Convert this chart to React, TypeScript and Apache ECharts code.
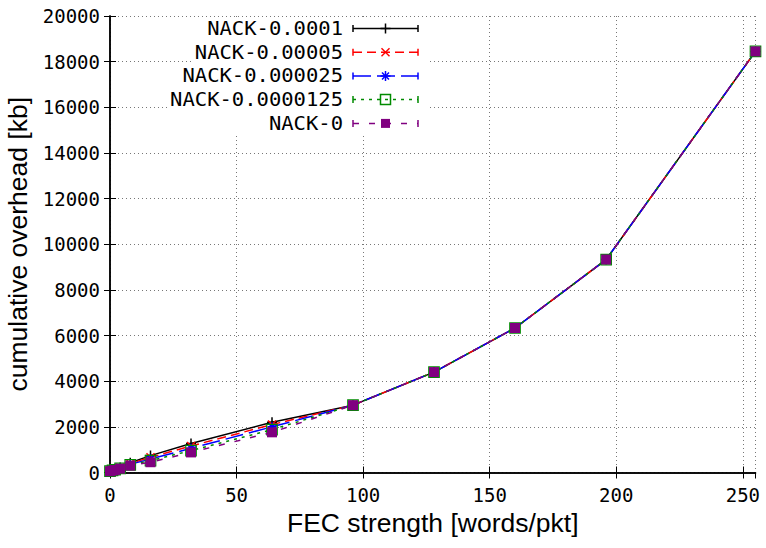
import React, { useEffect, useRef } from "react";
import * as echarts from "echarts";

const fecStrength = [0, 1, 2, 4, 8, 16, 32, 64, 96, 128, 160, 196, 255];
const nack0001 = [80, 110, 150, 220, 430, 740, 1270, 2200, 2950, 4400, 6330, 9330, 18450];
const nack00005 = [72, 102, 140, 205, 395, 665, 1160, 2100, 2950, 4400, 6330, 9330, 18450];
const nack000025 = [66, 96, 130, 190, 360, 590, 1060, 2000, 2950, 4400, 6330, 9330, 18450];
const nack0000125 = [60, 90, 120, 178, 330, 520, 960, 1880, 2950, 4400, 6330, 9330, 18450];
const nack0 = [55, 85, 112, 168, 300, 450, 880, 1760, 2950, 4400, 6330, 9330, 18450];

const seriesNames = ["NACK-0.0001", "NACK-0.00005", "NACK-0.000025", "NACK-0.0000125", "NACK-0"];
const seriesValues = [nack0001, nack00005, nack000025, nack0000125, nack0];

const colors = ["#000000", "#ff0000", "#0000ff", "#008a00", "#800080"];
const dashes: (number[] | "solid")[] = ["solid", [9, 5], [18, 6], [3, 5], [6, 10]];

const PLUS = "path://M0,5L10,5M5,0L5,10";
const CROSS = "path://M0,0L10,10M10,0L0,10";
const STAR = "path://M0,5L10,5M5,0L5,10M1.5,1.5L8.5,8.5M8.5,1.5L1.5,8.5";
const OSQ = "path://M0,0L10,0L10,10L0,10Z";

const symbols = [PLUS, CROSS, STAR, OSQ, "rect"];
const symbolSizes = [10, 8, 9, 10.5, 10];

export default function App() {
  const ref = useRef<HTMLDivElement>(null);
  useEffect(() => {
    if (!ref.current) return;
    const chart = echarts.init(ref.current, null, { renderer: "svg" });
    const mono = "DejaVu Sans Mono";
    const sans = "Liberation Sans";

    const series: any[] = seriesNames.map((name, i) => {
      const filled = symbols[i] === "rect";
      return {
        name,
        type: "line",
        data: fecStrength.map((x, j) => [x, seriesValues[i][j]]),
        symbol: symbols[i],
        symbolSize: symbolSizes[i],
        showAllSymbol: true,
        clip: false,
        lineStyle: { color: colors[i], width: 1.5, type: dashes[i] },
        itemStyle: filled
          ? { color: colors[i], borderWidth: 0 }
          : { color: "none", borderColor: colors[i], borderWidth: i === 3 ? 1.2 : 1.5 },
        z: 2 + i,
      };
    });

    const textRight = 343;
    const sx0 = 353;
    const sx1 = 418;
    const mx = 385.5;
    const rowY = [28.5, 52.3, 76, 99.6, 123.4];
    const g: any[] = [];
    g.push({
      type: "rect",
      shape: { x: 207, y: 17, width: 223, height: 118 },
      style: { fill: "#fff" },
      z: 20,
    });
    seriesNames.forEach((name, i) => {
      const y = rowY[i];
      const c = colors[i];
      g.push({
        type: "text",
        x: textRight,
        y,
        scaleX: 1.08,
        style: {
          text: name,
          fontFamily: mono,
          fontSize: 19,
          fill: "#000",
          align: "right",
          verticalAlign: "middle",
          backgroundColor: "#fff",
          padding: [1, 0, 1, 2],
        },
        z: 21,
      });
      g.push({
        type: "line",
        shape: { x1: sx0, y1: y, x2: sx1, y2: y },
        style: {
          stroke: c,
          lineWidth: 1.5,
          lineDash: dashes[i] === "solid" ? null : dashes[i],
        },
        z: 22,
      });
      [sx0, sx1].forEach((ex) => {
        g.push({
          type: "line",
          shape: { x1: ex, y1: y - 3.5, x2: ex, y2: y + 3.5 },
          style: { stroke: c, lineWidth: 1.5 },
          z: 22,
        });
      });
      const st = { stroke: c, lineWidth: 1.5 };
      if (i === 0 || i === 2) {
        g.push({ type: "line", shape: { x1: mx - 5, y1: y, x2: mx + 5, y2: y }, style: st, z: 23 });
        g.push({ type: "line", shape: { x1: mx, y1: y - 5, x2: mx, y2: y + 5 }, style: st, z: 23 });
      }
      if (i === 1 || i === 2) {
        const d = i === 1 ? 4 : 3.5;
        g.push({ type: "line", shape: { x1: mx - d, y1: y - d, x2: mx + d, y2: y + d }, style: st, z: 23 });
        g.push({ type: "line", shape: { x1: mx - d, y1: y + d, x2: mx + d, y2: y - d }, style: st, z: 23 });
      }
      if (i === 3) {
        g.push({
          type: "rect",
          shape: { x: mx - 5, y: y - 5, width: 10, height: 10 },
          style: { fill: "none", stroke: c, lineWidth: 1.5 },
          z: 23,
        });
      }
      if (i === 4) {
        g.push({
          type: "rect",
          shape: { x: mx - 4.5, y: y - 4.5, width: 9, height: 9 },
          style: { fill: c },
          z: 23,
        });
      }
    });

    const gridLine = { show: true, lineStyle: { color: "#777", width: 1, type: [1, 3] } };
    const axisLine = { show: true, lineStyle: { color: "#000", width: 1.5 } };
    const tick = { show: true, inside: true, length: 6, lineStyle: { color: "#000", width: 1 } };
    const plain = (v: number) => String(v);

    chart.setOption({
      animation: false,
      backgroundColor: "#fff",
      grid: { left: 110, right: 10.5, top: 16, bottom: 75.5, containLabel: false, outerBoundsMode: "none" },
      xAxis: [
        {
          type: "value",
          min: 0,
          max: 255,
          interval: 50,
          position: "bottom",
          name: "FEC strength [words/pkt]",
          nameLocation: "middle",
          nameGap: 37,
          nameTextStyle: { fontFamily: sans, fontSize: 26.5, color: "#000" },
          axisLine,
          axisTick: tick,
          axisLabel: { fontFamily: mono, fontSize: 19, color: "#000", margin: 13, showMaxLabel: false, formatter: plain },
          splitLine: gridLine,
        },
        {
          type: "value",
          min: 0,
          max: 255,
          interval: 50,
          position: "top",
          axisLine,
          axisTick: tick,
          axisLabel: { show: false },
          splitLine: { show: false },
        },
      ],
      yAxis: [
        {
          type: "value",
          min: 0,
          max: 20000,
          interval: 2000,
          position: "left",
          name: "cumulative overhead [kb]",
          nameLocation: "middle",
          nameGap: 68,
          nameTextStyle: { fontFamily: sans, fontSize: 26.5, color: "#000" },
          axisLine,
          axisTick: tick,
          axisLabel: { fontFamily: mono, fontSize: 19, color: "#000", margin: 10, formatter: plain },
          splitLine: gridLine,
        },
        {
          type: "value",
          min: 0,
          max: 20000,
          interval: 2000,
          position: "right",
          axisLine,
          axisTick: tick,
          axisLabel: { show: false },
          splitLine: { show: false },
        },
      ],
      series,
      graphic: g,
    });
    return () => chart.dispose();
  }, []);
  return <div ref={ref} style={{ width: 766, height: 548, position: "absolute", left: 0, top: 0 }} />;
}
